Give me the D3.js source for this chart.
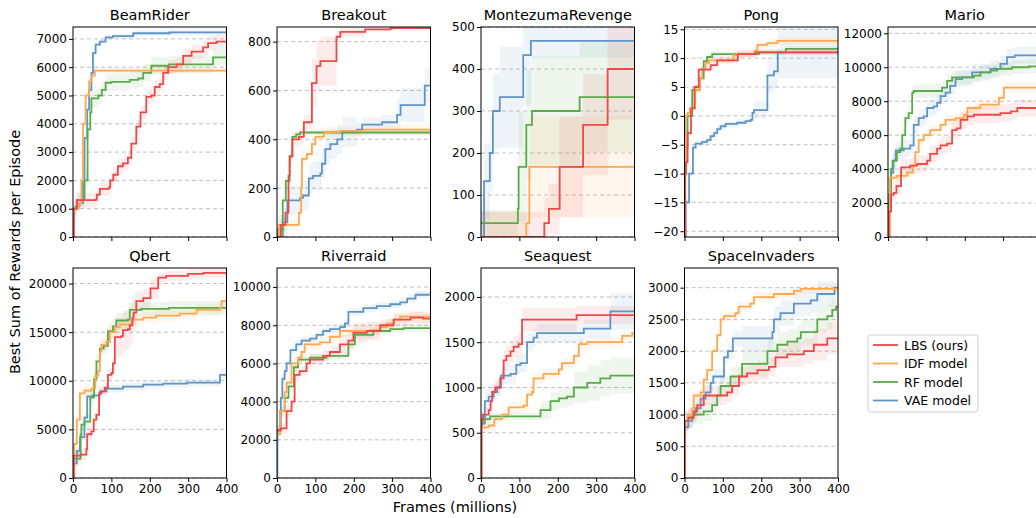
<!DOCTYPE html>
<html lang="en">
<head>
<meta charset="utf-8">
<title>Best reward curves</title>
<script src="https://d3js.org/d3.v7.min.js"></script>
<style>
  body { margin: 0; background: #fff; }
  svg { font-family: "DejaVu Sans", sans-serif; }
  .grid line { stroke: #b0b0b0; stroke-dasharray: 4 3; stroke-width: 0.8; }
</style>
</head>
<body>
<div id="chart"></div>
<script>
// models in legend order
const models = ["LBS (ours)", "IDF model", "RF model", "VAE model"];
const colors = ["#f04848", "#ffa84d", "#59ab4a", "#5e94c8"];
const xTicks = [0, 100, 200, 300, 400];

const games = ["BeamRider", "Breakout", "MontezumaRevenge", "Pong", "Mario",
               "Qbert", "Riverraid", "Seaquest", "SpaceInvaders"];
const yMax = [7420, 860, 500, 15.4, 12370, 21600, 11000, 2320, 3310];
const yMin = [0, 0, 0, -21, 0, 0, 0, 0, 0];
const yTicks = [
  d3.range(0, 7001, 1000), d3.range(0, 801, 200), d3.range(0, 501, 100),
  d3.range(-20, 16, 5), d3.range(0, 12001, 2000), d3.range(0, 20001, 5000),
  d3.range(0, 10001, 2000), d3.range(0, 2001, 500), d3.range(0, 3001, 500)
];

// each point: [frames (M), best reward, band half-width (carried forward)]
const beamRider = [
  [[0,0,250],[2,1000],[10,1300],[59,1320],[62,1500],[70,1700],[94,1750],[97,2000],[105,2200],[117,2500],[130,2600],[143,2800],[152,3300],[165,3900],[176,4400],[191,4950],[204,5000],[213,5300],[226,5400],[235,5800],[248,6000],[270,6100],[287,6400],[309,6550],[339,6700],[352,6850],[374,6900]],
  [[0,0,100],[2,1000],[15,1200],[22,2000],[26,4000],[33,5000],[42,5500],[48,5700],[57,5880]],
  [[0,0,300],[2,1000],[10,1300],[30,2000],[38,3800],[45,4400],[48,4900],[66,5000],[75,5200],[85,5450],[100,5480],[148,5550],[170,5600],[183,5800],[204,6050],[250,6100],[365,6350]],
  [[0,0,100],[1,1000],[8,1100],[17,1200],[26,2000],[30,3500],[37,4500],[42,5200],[48,5800],[52,6500],[59,6800],[70,6900],[85,7050],[104,7100],[157,7200],[252,7230]]
];
const breakout = [
  [[0,0,30],[10,50],[22,100],[30,250],[33,330],[40,400],[57,410],[70,470],[91,630,100],[103,700],[113,720],[155,820,20],[165,840],[230,850,5],[296,855]],
  [[0,0,20],[5,50],[57,100],[63,200],[65,320],[78,340],[91,380],[100,410],[122,430],[165,435],[226,440]],
  [[0,0,10],[15,150],[23,230],[33,330],[40,410],[50,420],[60,428]],
  [[0,0,60],[2,30],[15,60],[27,150],[60,160],[68,170],[83,240],[94,250],[113,260],[117,300],[126,360],[139,380],[157,400],[170,430],[209,440,30],[222,460],[274,470],[313,500,70],[322,540],[385,620]]
];
const montezuma = [
  [[0,0,60],[165,33],[177,67],[205,167,120],[266,267],[330,400]],
  [[0,0,60],[118,33],[126,167,120]],
  [[0,33,30],[96,67],[98,167,130],[118,267],[133,300],[257,333]],
  [[0,0,90],[8,133],[23,200],[31,300],[49,333,120],[110,433],[130,467,40]]
];
const pong = [
  [[0,-21,0.5],[2,-10],[4,-8],[8,-3],[17,1.3],[26,5],[37,8],[68,8.8],[85,9.6],[139,10.7],[185,11]],
  [[0,-8,0.7],[3,0],[8,0.5],[14,1.3],[28,4.5],[40,6.5],[46,8.2],[55,9.2],[64,9.6],[127,10.5],[139,10.7],[183,11.3],[190,12.3],[216,12.6],[242,13]],
  [[0,-10,0.5],[3,-5.5],[8,0],[20,4.5],[40,6.5],[50,9.5],[59,10.2],[72,10.7],[194,11],[264,11.6]],
  [[0,-21,0.6],[3,-15],[12,-10],[22,-5.5],[29,-4.8],[46,-4.5],[59,-4.2],[68,-3.5],[77,-3],[85,-2.3],[94,-1.8],[107,-1.4],[137,-1.2],[159,-0.9],[172,-0.7],[177,0.5],[181,1,1.5],[216,7,3],[233,7.7],[243,11,4.5]]
];
const mario = [
  [[0,0,500],[2,1500],[8,2500],[15,2600],[22,3000],[34,4100],[58,4200],[76,4300],[102,4500],[110,4900],[128,5200],[137,5400],[154,5500],[167,6300],[179,6400],[189,6900],[207,7100],[224,7200],[293,7300],[320,7400],[337,7600]],
  [[0,0,300],[5,3500],[23,3600],[50,3800],[65,4200],[71,5000],[80,5700],[93,6000],[110,6300],[137,6600],[150,6900],[176,7000],[198,7200],[207,7600],[241,7800],[289,8200],[302,8800]],
  [[0,0,400],[3,2000],[8,4000],[12,4500],[23,5000],[32,5200],[37,6000],[45,7000],[54,7300],[63,8500],[67,8600],[141,8800],[154,9200],[167,9400],[224,9500],[241,9700],[267,9800],[284,9900],[323,10000],[367,10050]],
  [[0,0,500],[3,2500],[8,3800],[14,4500],[20,5100],[41,5200],[58,5400],[67,6600],[80,7000],[93,7100],[102,7600],[119,7700],[128,7900],[137,8300],[150,8500],[162,8900],[176,9300],[193,9400],[219,9700],[267,9900],[293,10200],[310,10600],[330,10700]]
];
const qbert = [
  [[0,0,600],[2,2300],[20,2400],[35,3000],[37,4500],[48,4800],[54,6000],[61,6500],[68,8700],[74,8900],[83,9300],[91,10600],[100,10800],[104,11800],[109,14500,2000],[126,14600],[130,15200],[143,15300],[148,15700],[155,16500],[158,17000],[165,18200,1000],[183,18500],[202,19500],[222,20600,500],[243,20800],[300,21000],[340,21100]],
  [[0,0,600],[3,3500],[10,6000],[18,8700],[30,9000],[48,9200],[58,10500],[65,11000],[70,13000],[74,13700],[87,14000],[96,15000],[109,15500],[122,15800],[152,16300],[183,16500],[217,16700],[278,16900],[322,17300],[383,17500],[387,18200]],
  [[0,0,800],[3,2000],[20,4500],[22,5500],[30,5800],[45,8300],[55,10200],[61,12000],[70,13300],[80,13600],[91,15100],[104,15600],[113,16200],[143,16300],[148,17300,700],[178,17400],[250,17500]],
  [[0,0,400],[3,1500],[10,2800],[18,4200],[30,6200],[37,8400],[52,8500],[70,8900],[87,9200],[130,9400],[183,9600],[235,9700],[296,9800],[383,10600,600]]
];
const riverraid = [
  [[0,2500,300],[10,2600],[25,3500],[38,4000],[46,5400],[59,5600],[77,6000],[86,6200],[120,6400],[138,6600],[164,7000,500],[186,7200],[199,7600],[234,7700],[269,8000,300],[304,8300],[348,8400],[380,8350]],
  [[0,2300,300],[8,3500],[20,4500],[25,5000],[38,6000],[55,6300],[64,6600],[72,7000],[112,7100],[138,7400],[164,7700],[243,7750],[269,7900],[286,8100],[304,8300],[321,8450]],
  [[0,2500,200],[8,3500],[20,4200],[30,4800],[44,5800],[55,6200],[86,6300],[129,6400],[186,7000],[203,7500],[251,7700],[295,7800],[330,7850]],
  [[0,0,200],[1,2500],[10,4200],[14,5200],[20,5600],[25,6000],[35,6700],[50,7000],[64,7200],[86,7300],[103,7500],[120,7700],[138,7800],[164,7900],[177,8100],[186,8700],[225,8900],[260,9000],[295,9100],[321,9200],[339,9400],[361,9600]]
];
const seaquest = [
  [[0,0,80],[1,650],[5,700],[20,750],[25,850],[29,950],[37,1000],[50,1100],[59,1300,120],[66,1350],[77,1400],[85,1450],[98,1480],[107,1750,130],[249,1800,100]],
  [[0,0,60],[1,560],[20,580],[35,650],[55,700],[72,780],[111,800],[120,920],[133,950],[137,1100],[163,1150],[203,1200],[211,1270],[242,1350],[255,1480],[277,1500],[368,1570],[394,1600]],
  [[0,0,40],[1,600],[5,650],[24,680],[155,750,100],[181,850],[203,880],[224,900],[242,1000,170],[277,1050,200],[311,1100],[337,1130]],
  [[0,0,100],[1,600],[10,850],[20,900],[33,950],[42,1000],[52,1130],[77,1150],[92,1250],[103,1270],[120,1500],[137,1550],[146,1600],[268,1650],[337,1840,200]]
];
const spaceInvaders = [
  [[0,0,150],[1,900],[10,950],[24,1050],[33,1150],[50,1300],[111,1350],[124,1450],[142,1600],[163,1650],[190,1700],[220,1750],[237,1900],[268,1950,200],[311,2000],[337,2100,250],[372,2200]],
  [[0,0,80],[1,900],[10,1000],[20,1100],[24,1300],[42,1350],[50,1550],[59,1700],[72,2000],[85,2250],[94,2500],[103,2550],[133,2600],[141,2700],[172,2750],[181,2850],[233,2900],[285,2950],[303,2980]],
  [[0,0,150],[1,900],[10,950],[20,1000],[50,1050],[72,1150],[85,1300],[94,1450],[120,1600],[150,1800,200],[216,2000],[242,2100],[268,2150],[294,2200],[303,2300],[346,2500],[372,2550],[385,2650],[395,2700]],
  [[0,0,120],[1,800],[10,900],[20,1000],[29,1100],[42,1250],[55,1350],[68,1500],[75,1600],[103,1900],[113,2000],[126,2200],[150,2200,200],[229,2300],[233,2500],[250,2600],[285,2750],[329,2800],[346,2900],[391,3000,80]]
];
const gameSeries = [beamRider, breakout, montezuma, pong, mario,
                    qbert, riverraid, seaquest, spaceInvaders];

const width = 1036, height = 518;
const colX = [73, 277, 481, 684.5, 888];
const rowY = [27, 268];
const pw = 153.5, ph = 210;

const svg = d3.select("#chart").append("svg")
  .attr("width", width).attr("height", height);

const x = d3.scaleLinear().domain([0, 400]).range([0, pw]);

function expand(pts) {
  // fill in band width, carry it forward, close at 400
  let d = 0;
  const out = pts.map(p => {
    if (p[2] !== undefined) d = p[2];
    return { x: p[0], y: p[1], d: d };
  });
  const last = out[out.length - 1];
  out.push({ x: 400, y: last.y, d: last.d });
  return out;
}

games.forEach((name, gi) => {
  const row = gi < 5 ? 0 : 1;
  const col = gi < 5 ? gi : gi - 5;
  const g = svg.append("g")
    .attr("transform", `translate(${colX[col]},${rowY[row]})`);

  const y = d3.scaleLinear().domain([yMin[gi], yMax[gi]]).range([ph, 0]);

  // grid
  g.append("g").attr("class", "grid")
    .selectAll("line").data(yTicks[gi]).join("line")
    .attr("x1", 0).attr("x2", pw)
    .attr("y1", d => y(d)).attr("y2", d => y(d));

  const clipId = "clip" + gi;
  g.append("clipPath").attr("id", clipId)
    .append("rect").attr("width", pw).attr("height", ph);

  const plot = g.append("g").attr("clip-path", `url(#${clipId})`);
  const series = gameSeries[gi].map(expand);

  const area = d3.area().curve(d3.curveStepAfter)
    .x(d => x(d.x)).y0(d => y(d.y - d.d)).y1(d => y(d.y + d.d));
  const line = d3.line().curve(d3.curveStepAfter)
    .x(d => x(d.x)).y(d => y(d.y));

  // bands then lines, VAE drawn first so LBS ends on top
  [3, 2, 1, 0].forEach(si => {
    plot.append("path").attr("d", area(series[si]))
      .attr("fill", colors[si]).attr("fill-opacity", 0.1);
  });
  [3, 2, 1, 0].forEach(si => {
    plot.append("path").attr("d", line(series[si]))
      .attr("fill", "none").attr("stroke", colors[si])
      .attr("stroke-width", 1.8).attr("stroke-linejoin", "miter");
  });

  // axes
  const yAxis = d3.axisLeft(y).tickValues(yTicks[gi]).tickSize(4).tickPadding(2)
    .tickFormat(d3.format("d"));
  g.append("g").call(yAxis)
    .call(a => a.select(".domain").remove())
    .selectAll("text").attr("font-size", 12).attr("fill", "#000")
    .attr("font-family", "DejaVu Sans");

  const xAxis = d3.axisBottom(x).tickValues(xTicks).tickSize(4).tickPadding(2)
    .tickFormat(row === 1 ? d3.format("d") : "");
  g.append("g").attr("transform", `translate(0,${ph})`).call(xAxis)
    .call(a => a.select(".domain").remove())
    .selectAll("text").attr("font-size", 12).attr("fill", "#000")
    .attr("font-family", "DejaVu Sans");

  g.append("rect").attr("width", pw).attr("height", ph)
    .attr("fill", "none").attr("stroke", "#000").attr("stroke-width", 1);

  g.append("text").attr("x", pw / 2).attr("y", -7)
    .attr("text-anchor", "middle").attr("font-size", 14.5).text(name);
});

// shared labels
svg.append("text")
  .attr("transform", "translate(20,252) rotate(-90)")
  .attr("text-anchor", "middle").attr("font-size", 14.5)
  .text("Best Sum of Rewards per Episode");
svg.append("text")
  .attr("x", 455).attr("y", 512)
  .attr("text-anchor", "middle").attr("font-size", 14.5)
  .text("Frames (millions)");

// legend
const legend = svg.append("g").attr("transform", "translate(868,335)");
legend.append("rect").attr("width", 110).attr("height", 77).attr("rx", 3)
  .attr("fill", "#fff").attr("stroke", "#d0d0d0");
models.forEach((m, i) => {
  const ly = 10 + i * 18.5;
  legend.append("line").attr("x1", 5).attr("x2", 30)
    .attr("y1", ly).attr("y2", ly)
    .attr("stroke", colors[i]).attr("stroke-width", 1.8);
  legend.append("text").attr("x", 36).attr("y", ly + 4.5)
    .attr("font-size", 12.5).text(m);
});
</script>
</body>
</html>
